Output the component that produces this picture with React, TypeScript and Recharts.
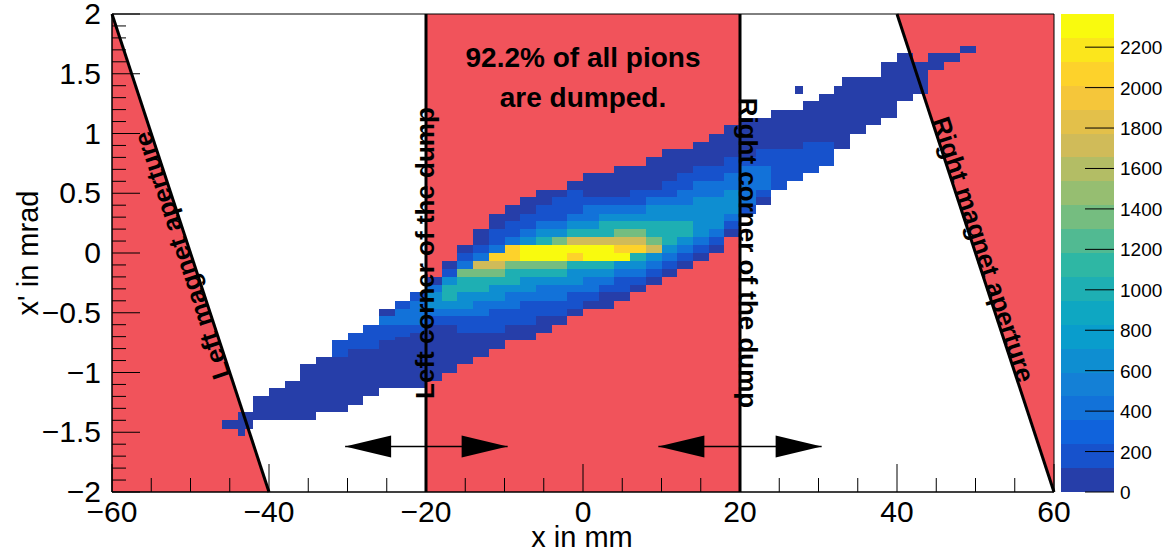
import React from 'react';
import { ComposedChart, Area, XAxis, YAxis, ReferenceArea, ReferenceLine, ReferenceDot } from 'recharts';

const FONT = '"Liberation Sans", Arial, Helvetica, sans-serif';
const RED = '#f1535b';

// colour palette of the z axis: 20 contours up to Z_MAX
const Z_MAX = 2364;
const BAND_COLORS = [
  '#263ea9', '#1752cc', '#1063dc', '#1272d9', '#1480d6',
  '#0e8ed1', '#099dcc', '#0ea7c2', '#1eafb3', '#2eb7a4',
  '#51ba92', '#75bd80', '#96be71', '#b3bd65', '#d0bb59',
  '#e3c04a', '#f5c63a', '#fdd22b', '#fbe61c', '#f9fa0e',
];
const Z_TICKS = [0, 200, 400, 600, 800, 1000, 1200, 1400, 1600, 1800, 2000, 2200];

const X_TICKS = [-60, -55, -50, -45, -40, -35, -30, -25, -20, -15, -10, -5, 0, 5, 10, 15, 20, 25, 30, 35, 40, 45, 50, 55, 60];
const X_MAJOR = [-60, -40, -20, 0, 20, 40, 60];
const Y_TICKS = [
  -2, -1.9, -1.8, -1.7, -1.6, -1.5, -1.4, -1.3, -1.2, -1.1, -1, -0.9, -0.8, -0.7, -0.6, -0.5, -0.4, -0.3, -0.2, -0.1,
  0, 0.1, 0.2, 0.3, 0.4, 0.5, 0.6, 0.7, 0.8, 0.9, 1, 1.1, 1.2, 1.3, 1.4, 1.5, 1.6, 1.7, 1.8, 1.9, 2,
];
const Y_MAJOR = [-2, -1.5, -1, -0.5, 0, 0.5, 1, 1.5, 2];

// histogram contours, 2 mm columns: [x start, x' low, x' high]
const level0: number[][] = [
  [-46, -1.47, -1.40], [-44, -1.47, -1.33], [-42, -1.40, -1.20], [-40, -1.40, -1.13], [-38, -1.40, -1.07],
  [-36, -1.40, -0.93], [-34, -1.33, -0.87], [-32, -1.33, -0.73], [-30, -1.27, -0.67], [-28, -1.20, -0.60],
  [-26, -1.13, -0.47], [-24, -1.13, -0.40], [-22, -1.13, -0.33], [-20, -1.07, -0.20], [-18, -1.00, -0.07],
  [-16, -0.93, 0.07], [-14, -0.87, 0.20], [-12, -0.80, 0.33], [-10, -0.73, 0.40], [-8, -0.73, 0.47],
  [-6, -0.67, 0.53], [-4, -0.60, 0.53], [-2, -0.53, 0.60], [0, -0.47, 0.67], [2, -0.47, 0.67],
  [4, -0.40, 0.73], [6, -0.33, 0.73], [8, -0.27, 0.80], [10, -0.20, 0.87], [12, -0.13, 0.87],
  [14, -0.07, 0.93], [16, 0.00, 1.00], [18, 0.13, 1.07], [20, 0.33, 1.13], [22, 0.40, 1.13],
  [24, 0.53, 1.20], [26, 0.60, 1.20], [28, 0.67, 1.27], [30, 0.80, 1.33], [32, 0.87, 1.40],
  [34, 1.00, 1.47], [36, 1.07, 1.47], [38, 1.13, 1.60], [40, 1.27, 1.67], [42, 1.33, 1.60],
  [44, 1.53, 1.67], [46, 1.60, 1.67], [48, 1.67, 1.73],
];
const level1: number[][] = [
  [-32, -0.87, -0.73], [-30, -0.80, -0.67], [-28, -0.80, -0.60], [-26, -0.73, -0.53], [-24, -0.70, -0.40],
  [-22, -0.67, -0.33], [-20, -0.60, -0.27], [-18, -0.60, -0.13], [-16, -0.67, 0.00], [-14, -0.67, 0.07],
  [-12, -0.67, 0.20], [-10, -0.60, 0.27], [-8, -0.60, 0.33], [-6, -0.53, 0.40], [-4, -0.53, 0.47],
  [-2, -0.47, 0.53], [0, -0.40, 0.47], [2, -0.33, 0.47], [4, -0.33, 0.47], [6, -0.27, 0.53],
  [8, -0.20, 0.53], [10, -0.13, 0.60], [12, -0.07, 0.67], [14, 0.00, 0.73], [16, 0.07, 0.73],
  [18, 0.20, 0.80], [20, 0.33, 0.80], [22, 0.47, 0.87], [24, 0.53, 0.87], [26, 0.60, 0.87],
  [28, 0.67, 0.93], [30, 0.73, 0.93],
];
const level2: number[][] = [
  [-26, -0.60, -0.53], [-24, -0.60, -0.47], [-22, -0.60, -0.40], [-20, -0.53, -0.27], [-18, -0.53, -0.20],
  [-16, -0.53, -0.07], [-14, -0.53, 0.00], [-12, -0.47, 0.07], [-10, -0.47, 0.13], [-8, -0.40, 0.20],
  [-6, -0.40, 0.27], [-4, -0.40, 0.27], [-2, -0.33, 0.33], [0, -0.33, 0.40], [2, -0.27, 0.40],
  [4, -0.20, 0.40], [6, -0.20, 0.40], [8, -0.13, 0.47], [10, -0.07, 0.47], [12, 0.00, 0.53],
  [14, 0.07, 0.60], [16, 0.13, 0.60], [18, 0.27, 0.67], [20, 0.40, 0.73], [22, 0.53, 0.73],
];
const level3: number[][] = [
  [-20, -0.47, -0.33], [-18, -0.47, -0.20], [-16, -0.47, -0.13], [-14, -0.40, -0.07], [-12, -0.40, 0.00],
  [-10, -0.33, 0.07], [-8, -0.33, 0.13], [-6, -0.27, 0.20], [-4, -0.27, 0.20], [-2, -0.27, 0.27],
  [0, -0.20, 0.27], [2, -0.20, 0.33], [4, -0.13, 0.33], [6, -0.13, 0.33], [8, -0.07, 0.40],
  [10, 0.00, 0.40], [12, 0.07, 0.40], [14, 0.13, 0.47], [16, 0.20, 0.47], [18, 0.33, 0.53],
];
const level4: number[][] = [
  [-18, -0.40, -0.27], [-16, -0.33, -0.20], [-14, -0.33, -0.13], [-12, -0.27, -0.07], [-10, -0.27, 0.00],
  [-8, -0.20, 0.07], [-6, -0.20, 0.13], [-4, -0.20, 0.13], [-2, -0.13, 0.20], [0, -0.13, 0.20],
  [2, -0.13, 0.27], [4, -0.07, 0.27], [6, -0.07, 0.27], [8, 0.00, 0.27], [10, 0.07, 0.27], [12, 0.13, 0.27],
];
const level5: number[][] = [
  [-16, -0.20, -0.13], [-14, -0.20, -0.07], [-12, -0.20, 0.00], [-10, -0.13, 0.07], [-8, -0.13, 0.07],
  [-6, -0.13, 0.07], [-4, -0.13, 0.13], [-2, -0.07, 0.13], [0, -0.07, 0.13], [2, -0.07, 0.13],
  [4, -0.07, 0.20], [6, 0.00, 0.20], [8, 0.00, 0.13],
];
const level6: number[][] = [
  [-14, -0.13, -0.07], [-12, -0.13, 0.00], [-10, -0.07, 0.07], [-8, -0.07, 0.07], [-6, -0.07, 0.07],
  [-4, -0.07, 0.07], [-2, -0.07, 0.13], [0, -0.07, 0.13], [2, -0.07, 0.13], [4, -0.07, 0.13],
  [6, 0.00, 0.13], [8, 0.00, 0.07],
];
const level7: number[][] = [
  [-12, -0.07, 0.00], [-10, -0.07, 0.07], [-8, -0.07, 0.07], [-6, -0.07, 0.07], [-4, -0.07, 0.07],
  [-2, -0.07, 0.07], [0, -0.07, 0.07], [2, -0.07, 0.07], [4, -0.07, 0.07], [6, 0.00, 0.07],
];
const level8: number[][] = [
  [-8, -0.07, 0.07], [-6, -0.07, 0.07], [-4, -0.07, 0.07], [-2, 0.00, 0.07], [0, -0.07, 0.07],
  [2, -0.07, 0.07], [4, -0.07, 0.00],
];
// single 1 mm bins away from the main cloud
const strayBins: number[][] = [[-44, -1.53, -1.47], [27, 1.33, 1.40], [33, 1.40, 1.47]];

const LEVELS = [
  { band: 0, cells: level0 }, { band: 1, cells: level1 }, { band: 3, cells: level2 },
  { band: 5, cells: level3 }, { band: 8, cells: level4 }, { band: 11, cells: level5 },
  { band: 14, cells: level6 }, { band: 17, cells: level7 }, { band: 19, cells: level8 },
];

// magnet apertures (red wedges), as [low, high] ranges
const apertureData = [
  { x: -60, left: [-2, 2] },
  { x: -40, left: [-2, -2] },
  { x: 40, right: [2, 2] },
  { x: 60, right: [-2, 2] },
];

const ARROW_Y = -1.62;
const arrows = [
  { from: -30.3, to: -9.6 },
  { from: 9.6, to: 30.4 },
];

const fmt = (v: number) => (v < 0 ? '\u2212' : '') + String(Math.abs(v));

// crisp cell so neighbouring bins do not show seams
const cell = (color: string) => (p: any) => (
  <rect x={p.x} y={p.y} width={p.width} height={p.height} fill={color} shapeRendering="crispEdges" />
);

const XTick = (p: any) => {
  const v = p.payload.value;
  const major = X_MAJOR.includes(v);
  return (
    <g>
      <line x1={p.x} x2={p.x} y1={p.y} y2={p.y - (major ? 28 : 14)} stroke="#000" strokeWidth={1} />
      {major && (
        <text x={p.x} y={p.y + 30} textAnchor="middle" fontSize={30} fontFamily={FONT} fill="#000">
          {fmt(v)}
        </text>
      )}
    </g>
  );
};

const YTick = (p: any) => {
  const v = p.payload.value;
  const major = Y_MAJOR.some((m) => Math.abs(m - v) < 1e-9);
  return (
    <g>
      <line x1={p.x} x2={p.x + (major ? 28 : 14)} y1={p.y} y2={p.y} stroke="#000" strokeWidth={1} />
      {major && (
        <text x={p.x - 11} y={p.y + 10} textAnchor="end" fontSize={30} fontFamily={FONT} fill="#000">
          {fmt(v)}
        </text>
      )}
    </g>
  );
};

const ZTick = (p: any) => (
  <g>
    <line x1={p.x} x2={p.x - 29} y1={p.y} y2={p.y} stroke="#000" strokeWidth={1} />
    <text x={p.x + 6} y={p.y + 7} textAnchor="start" fontSize={19} fontFamily={FONT} fill="#000">
      {p.payload.value}
    </text>
  </g>
);

const label = (txt: string, angle: number, size = 26) => (p: any) => (
  <text
    x={p.cx}
    y={p.cy}
    transform={`rotate(${angle} ${p.cx} ${p.cy})`}
    textAnchor="middle"
    dy="0.35em"
    fontSize={size}
    fontWeight="bold"
    fontFamily={FONT}
    fill="#000"
  >
    {txt}
  </text>
);

const arrowHead = (dir: number) => (p: any) => (
  <polygon
    points={`${p.cx},${p.cy} ${p.cx + dir * 46},${p.cy - 11} ${p.cx + dir * 46},${p.cy + 11}`}
    fill="#000"
  />
);

const App: React.FC = () => {
  return (
    <div style={{ position: 'absolute', left: 0, top: 0, width: 1173, height: 552, background: '#fff' }}>
      <div style={{ position: 'absolute', left: 0, top: 0, width: 1173, height: 552 }}>
        <ComposedChart
          width={1173}
          height={552}
          data={apertureData}
          margin={{ top: 14, right: 119, bottom: 20, left: 52 }}
        >
          <XAxis
            dataKey="x"
            type="number"
            domain={[-60, 60]}
            allowDataOverflow
            ticks={X_TICKS}
            interval={0}
            height={40}
            tickSize={0}
            tickMargin={0}
            tickLine={false}
            axisLine={{ stroke: '#000', strokeWidth: 1 }}
            tick={XTick}
          />
          <YAxis
            type="number"
            domain={[-2, 2]}
            allowDataOverflow
            ticks={Y_TICKS}
            interval={0}
            width={60}
            tickSize={0}
            tickMargin={0}
            tickLine={false}
            axisLine={{ stroke: '#000', strokeWidth: 1 }}
            tick={YTick}
          />

          <ReferenceArea x1={-20} x2={20} y1={-2} y2={2} shape={cell(RED)} />
          <Area dataKey="left" type="linear" stroke="none" fill={RED} fillOpacity={1}
            isAnimationActive={false} dot={false} activeDot={false} />
          <Area dataKey="right" type="linear" stroke="none" fill={RED} fillOpacity={1}
            isAnimationActive={false} dot={false} activeDot={false} />

          {LEVELS.map((lv, li) =>
            lv.cells.map(([x0, lo, hi], ci) => (
              <ReferenceArea key={`c${li}-${ci}`} x1={x0} x2={x0 + 2} y1={lo} y2={hi}
                shape={cell(BAND_COLORS[lv.band])} />
            ))
          )}
          {strayBins.map(([x0, lo, hi], i) => (
            <ReferenceArea key={`s${i}`} x1={x0} x2={x0 + 1} y1={lo} y2={hi} shape={cell(BAND_COLORS[0])} />
          ))}

          <ReferenceLine segment={[{ x: -60, y: 2 }, { x: -40, y: -2 }]} stroke="#000" strokeWidth={3} />
          <ReferenceLine segment={[{ x: 40, y: 2 }, { x: 60, y: -2 }]} stroke="#000" strokeWidth={3} />
          <ReferenceLine x={-20} stroke="#000" strokeWidth={3} />
          <ReferenceLine x={20} stroke="#000" strokeWidth={3} />

          {arrows.map((a, i) => (
            <ReferenceLine key={`al${i}`} segment={[{ x: a.from, y: ARROW_Y }, { x: a.to, y: ARROW_Y }]}
              stroke="#000" strokeWidth={1.5} />
          ))}
          {arrows.map((a, i) => (
            <ReferenceDot key={`ah${i}`} x={a.from} y={ARROW_Y} r={1} shape={arrowHead(1)} />
          ))}
          {arrows.map((a, i) => (
            <ReferenceDot key={`at${i}`} x={a.to} y={ARROW_Y} r={1} shape={arrowHead(-1)} />
          ))}

          <ReferenceDot x={0} y={1.64} r={1} shape={label('92.2% of all pions', 0, 28)} />
          <ReferenceDot x={0} y={1.3} r={1} shape={label('are dumped.', 0, 28)} />
          <ReferenceDot x={-20.1} y={0} r={1} shape={label('Left corner of the dump', -90)} />
          <ReferenceDot x={21} y={0} r={1} shape={label('Right corner of the dump', 90)} />
          <ReferenceDot x={-51.1} y={-0.02} r={1} shape={label('Left magnet aperture', -108.2)} />
          <ReferenceDot x={51} y={0.03} r={1} shape={label('Right magnet aperture', 71.8)} />

          <ReferenceArea x1={-60} x2={60} y1={-2} y2={2} fill="none" fillOpacity={0} stroke="#000" strokeWidth={1} />
        </ComposedChart>
      </div>

      <div style={{ position: 'absolute', left: 1040, top: 0, width: 133, height: 552 }}>
        <ComposedChart
          width={133}
          height={552}
          data={[{ x: 0 }, { x: 1 }]}
          margin={{ top: 14, right: 4, bottom: 60, left: 21 }}
        >
          <XAxis dataKey="x" type="number" domain={[0, 1]} hide height={0} />
          <YAxis
            orientation="right"
            type="number"
            domain={[0, Z_MAX]}
            allowDataOverflow
            ticks={Z_TICKS}
            interval={0}
            width={55}
            tickSize={0}
            tickMargin={0}
            tickLine={false}
            axisLine={false}
            tick={ZTick}
          />
          {BAND_COLORS.map((c, i) => (
            <ReferenceArea
              key={`z${i}`}
              x1={0}
              x2={1}
              y1={(i * Z_MAX) / BAND_COLORS.length}
              y2={((i + 1) * Z_MAX) / BAND_COLORS.length}
              shape={cell(c)}
            />
          ))}
        </ComposedChart>
      </div>

      <svg width={1173} height={552} style={{ position: 'absolute', left: 0, top: 0, pointerEvents: 'none' }}>
        <text x={582} y={547} textAnchor="middle" fontSize={29} fontFamily={FONT} fill="#000">
          x in mm
        </text>
        <text
          x={28}
          y={253}
          transform="rotate(-90 28 253)"
          textAnchor="middle"
          dy="0.35em"
          fontSize={29}
          fontFamily={FONT}
          fill="#000"
        >
          x' in mrad
        </text>
      </svg>
    </div>
  );
};

export default App;
